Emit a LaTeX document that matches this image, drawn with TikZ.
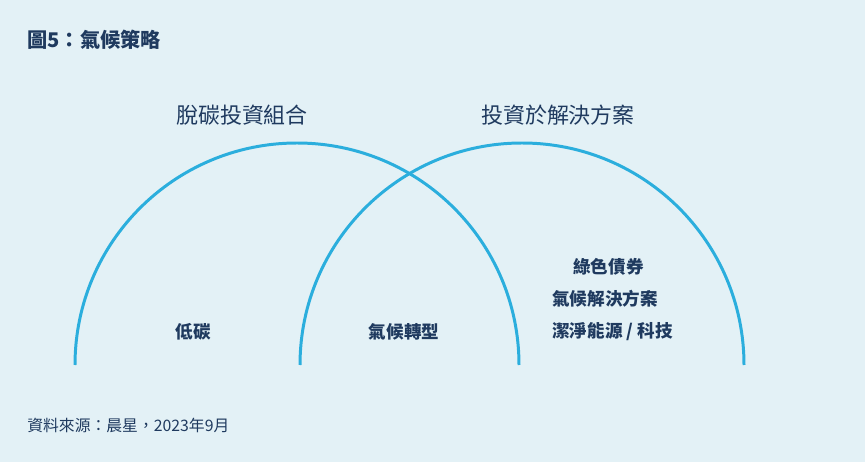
\documentclass[tikz,border=0pt]{standalone}
\usepackage{fontspec}
\setmainfont{Noto Sans CJK TC}
\definecolor{bgblue}{HTML}{E3F1F6}
\definecolor{arcblue}{HTML}{2BAEDD}
\definecolor{navy}{HTML}{1F3A5F}
\begin{document}
\begin{tikzpicture}[x=0.02cm,y=-0.02cm,
    every node/.style={text=navy,inner sep=0pt},
    title/.style={font=\fontsize{11.5}{13}\selectfont\bfseries,anchor=west},
    setlabel/.style={font=\fontsize{12.5}{14}\selectfont},
    region/.style={font=\fontsize{10}{12}\selectfont\bfseries},
    source/.style={font=\fontsize{9}{10}\selectfont,anchor=west}]
    % background
    \fill[bgblue] (0,0) rectangle (865,462);
    \useasboundingbox (0,0) rectangle (865,462);

    % the two sets
    \draw[arcblue,line width=1.7pt] (75,365) arc[start angle=180,end angle=360,radius=222];
    \draw[arcblue,line width=1.7pt] (300,365) arc[start angle=180,end angle=360,radius=222];

    \node[title] (fig) at (27,40) {圖5：氣候策略};
    \node[setlabel] (decarb) at (242,115) {脫碳投資組合};
    \node[setlabel] (solut) at (558,115) {投資於解決方案};

    \node[region] (low) at (193,332) {低碳};
    \node[region] (trans) at (404,332) {氣候轉型};
    \node[region,anchor=west] (green) at (573,267) {綠色債券};
    \node[region,anchor=west] (csol) at (552,299) {氣候解決方案};
    \node[region,anchor=west] (clean) at (552,332) {潔淨能源 / 科技};

    \node[source] (src) at (27,425) {資料來源：晨星，2023年9月};
\end{tikzpicture}
\end{document}
